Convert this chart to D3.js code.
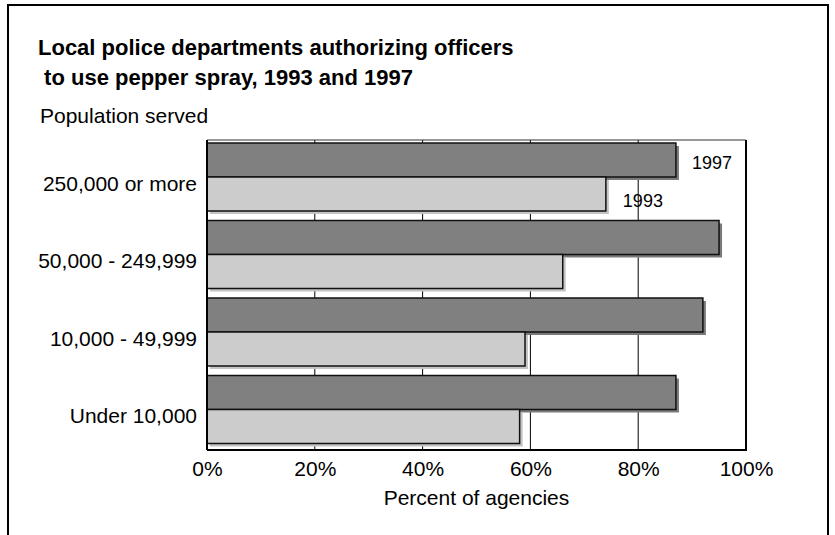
<!DOCTYPE html>
<html>
<head>
<meta charset="utf-8">
<script src="https://cdn.jsdelivr.net/npm/d3@7"></script>
<style>
  body { margin: 0; background: #fff; }
  svg { display: block; }
  text { font-family: "Liberation Sans", Arial, sans-serif; fill: #000; }
</style>
</head>
<body>
<svg id="chart" width="835" height="535"></svg>
<script>
// Population groups, top to bottom
const categories = ["250,000 or more", "50,000 - 249,999", "10,000 - 49,999", "Under 10,000"];
// Series drawn within each group, top to bottom
const years = ["1997", "1993"];
// Percent of agencies authorizing pepper spray
const values1997 = [87, 95, 92, 87];
const values1993 = [74, 66, 59, 58];
const xTicks = [0, 20, 40, 60, 80, 100];
const titleLines = ["Local police departments authorizing officers", " to use pepper spray, 1993 and 1997"];

const seriesValues = { "1997": values1997, "1993": values1993 };
const fills = { "1997": "#808080", "1993": "#cccccc" };
const shadows = { "1997": "#7a7a7a", "1993": "#c4c4c4" };

const svg = d3.select("#chart");
const plot = { left: 207, right: 746, top: 140, bottom: 450 };

const x = d3.scaleLinear().domain([0, 100]).range([plot.left, plot.right]);
const y = d3.scaleBand().domain(categories).range([plot.top, plot.bottom]);
const yInner = d3.scaleBand().domain(years).range([3, 71]);

// outer frame
svg.append("rect")
  .attr("x", 8).attr("y", 5).attr("width", 820).attr("height", 560)
  .attr("fill", "none").attr("stroke", "#000").attr("stroke-width", 2);

// title
svg.append("g").selectAll("text").data(titleLines).join("text")
  .attr("x", 38).attr("y", (d, i) => 55 + i * 30)
  .attr("font-size", 22).attr("font-weight", "bold")
  .attr("xml:space", "preserve")
  .text(d => d);

svg.append("text").attr("x", 40).attr("y", 123)
  .attr("font-size", 21).text("Population served");

// vertical gridlines
svg.append("g").selectAll("line").data(xTicks.filter(t => t > 0 && t < 100)).join("line")
  .attr("x1", d => x(d)).attr("x2", d => x(d))
  .attr("y1", plot.top).attr("y2", plot.bottom)
  .attr("stroke", "#000").attr("stroke-width", 1);

// bars with drop shadows
const rows = [];
categories.forEach((c, i) => years.forEach(yr => rows.push({ cat: c, year: yr, value: seriesValues[yr][i] })));

const barG = svg.append("g");
rows.forEach(r => {
  const by = y(r.cat) + yInner(r.year);
  const h = yInner.bandwidth();
  barG.append("rect")
    .attr("x", x(0) + 3).attr("y", by + 3)
    .attr("width", x(r.value) - x(0)).attr("height", h)
    .attr("fill", shadows[r.year]);
  barG.append("rect")
    .attr("x", x(0)).attr("y", by)
    .attr("width", x(r.value) - x(0)).attr("height", h)
    .attr("fill", fills[r.year]).attr("stroke", "#111").attr("stroke-width", 1.5);
});

// plot frame
svg.append("line").attr("x1", plot.left).attr("x2", plot.right).attr("y1", plot.top).attr("y2", plot.top)
  .attr("stroke", "#333").attr("stroke-width", 1);
svg.append("line").attr("x1", plot.right).attr("x2", plot.right).attr("y1", plot.top).attr("y2", plot.bottom)
  .attr("stroke", "#000").attr("stroke-width", 2);
svg.append("line").attr("x1", plot.left).attr("x2", plot.right + 1).attr("y1", plot.bottom).attr("y2", plot.bottom)
  .attr("stroke", "#000").attr("stroke-width", 2);
svg.append("line").attr("x1", plot.left).attr("x2", plot.left).attr("y1", plot.top).attr("y2", plot.bottom)
  .attr("stroke", "#000").attr("stroke-width", 2);

// category labels
svg.append("g").selectAll("text").data(categories).join("text")
  .attr("x", 197).attr("y", d => y(d) + y.bandwidth() / 2 + 12)
  .attr("text-anchor", "end").attr("font-size", 21)
  .text(d => d);

// x tick labels
const xAxis = d3.axisBottom(x).tickValues(xTicks).tickFormat(d => d + "%").tickSize(0).tickPadding(0);
const ax = svg.append("g").attr("transform", `translate(0,${plot.bottom})`).call(xAxis);
ax.select(".domain").remove();
ax.selectAll("text").attr("font-size", 21).attr("font-family", "Liberation Sans, Arial, sans-serif")
  .attr("fill", "#000").attr("y", 26).attr("dy", 0);

svg.append("text").attr("x", (plot.left + plot.right) / 2).attr("y", 505)
  .attr("text-anchor", "middle").attr("font-size", 21).text("Percent of agencies");

// series labels beside the top group
const first = categories[0];
svg.append("text")
  .attr("x", x(values1997[0]) + 16)
  .attr("y", y(first) + yInner("1997") + yInner.bandwidth() / 2 + 9)
  .attr("font-size", 18).text("1997");
svg.append("text")
  .attr("x", x(values1993[0]) + 17)
  .attr("y", y(first) + yInner("1993") + yInner.bandwidth() / 2 + 13)
  .attr("font-size", 18).text("1993");
</script>
</body>
</html>
